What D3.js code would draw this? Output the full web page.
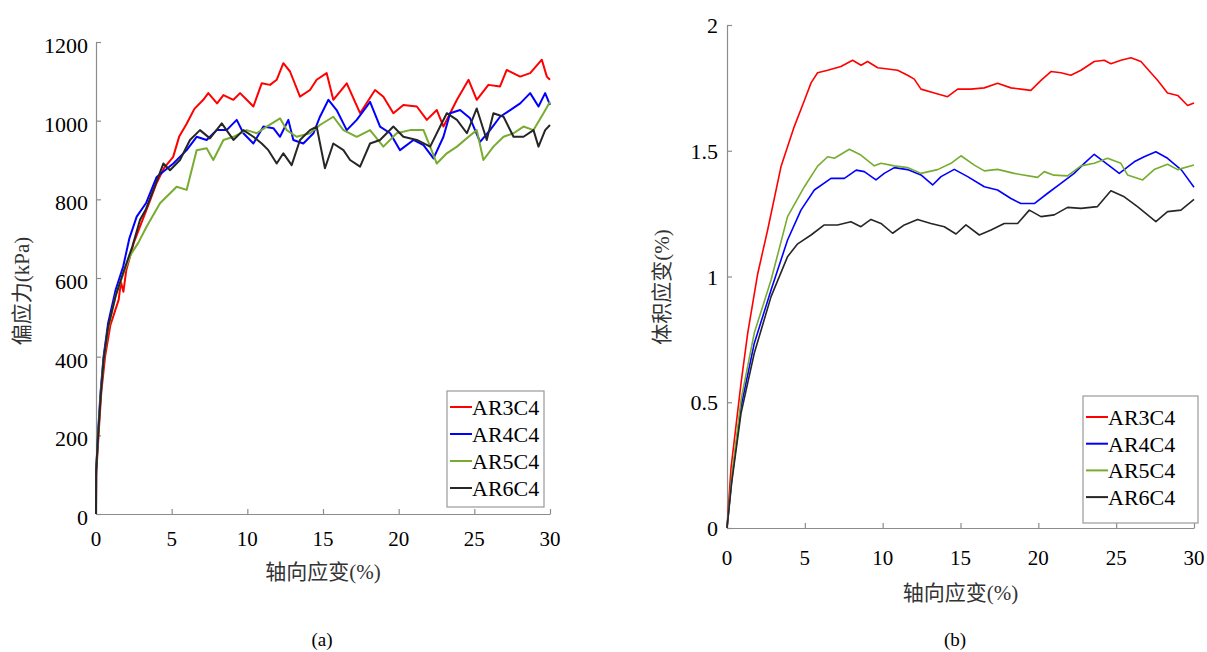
<!DOCTYPE html>
<html>
<head>
<meta charset="utf-8">
<script src="https://cdn.jsdelivr.net/npm/d3@7"></script>
<style>
  body { margin: 0; background: #fff; }
  svg { display: block; }
</style>
</head>
<body>
<div id="chart"></div>
<script>
// series names and colours
const seriesNames = ["AR3C4", "AR4C4", "AR5C4", "AR6C4"]
const seriesColors = ["#ff0000", "#0000ff", "#77ac30", "#262626"]

// (a) deviator stress (kPa) vs axial strain (%)
const stressAR3C4 = [[0,0],[0.01,100],[0.2,220],[0.35,310],[0.6,400],[0.95,480],[1.5,545],[1.65,590],[1.81,565],[2.0,620],[2.5,690],[3.0,740],[3.5,790],[4.0,841],[4.5,880],[5.1,908],[5.5,960],[6.0,993],[6.5,1030],[7.09,1053],[7.42,1070],[8.0,1044],[8.42,1065],[9.08,1053],[9.52,1070],[9.96,1053],[10.4,1036],[10.95,1095],[11.5,1091],[11.94,1104],[12.38,1146],[12.82,1125],[13.48,1061],[14.14,1078],[14.58,1104],[15.24,1121],[15.68,1053],[16.57,1095],[17.45,1019],[18.44,1078],[18.99,1061],[19.65,1019],[20.31,1040],[21.2,1036],[21.86,1002],[22.52,1027],[22.96,985],[23.85,1053],[24.62,1104],[25.16,1053],[25.93,1091],[26.7,1087],[27.14,1129],[28.03,1112],[28.69,1121],[29.46,1155],[29.79,1112],[30.0,1104]]
const stressAR4C4 = [[0,0],[0.01,110],[0.15,215],[0.3,310],[0.5,400],[0.8,485],[1.3,570],[1.8,630],[2.2,700],[2.69,756],[3.3,790],[4.01,857],[5.11,891],[5.99,925],[6.65,959],[7.31,951],[7.97,976],[8.63,976],[9.3,1002],[9.74,968],[10.4,942],[11.06,985],[11.72,981],[12.16,959],[12.71,1002],[13.04,951],[13.7,942],[14.37,968],[14.8,1010],[15.36,1053],[15.9,1027],[16.57,976],[17.23,1002],[18.11,1048],[18.77,985],[19.44,968],[20.09,925],[20.98,951],[21.64,938],[22.3,904],[22.96,959],[23.4,1019],[24.06,1027],[24.72,1006],[25.38,946],[26.04,976],[26.7,1010],[27.37,1027],[28.03,1044],[28.69,1070],[29.24,1036],[29.68,1070],[30.0,1040]]
const stressAR5C4 = [[0,0],[0.01,110],[0.15,205],[0.3,300],[0.5,390],[0.8,470],[1.3,555],[1.8,610],[2.3,660],[2.8,690],[3.35,731],[4.23,790],[5.33,832],[5.99,824],[6.65,925],[7.31,930],[7.75,900],[8.42,951],[9.08,959],[9.96,976],[10.62,968],[11.28,985],[12.16,1006],[12.6,976],[13.26,959],[14.14,968],[14.8,989],[15.68,1010],[16.35,976],[17.23,959],[18.11,976],[18.99,934],[19.87,968],[20.75,976],[21.64,976],[22.08,934],[22.52,891],[23.18,917],[23.85,934],[24.62,959],[25.16,976],[25.6,900],[26.26,934],[26.93,959],[27.59,968],[28.25,985],[28.91,976],[29.57,1019],[30.0,1048]]
const stressAR6C4 = [[0,0],[0.01,110],[0.15,205],[0.3,295],[0.5,392],[0.8,476],[1.3,555],[1.8,614],[2.4,680],[2.91,748],[3.3,775],[3.79,824],[4.45,891],[4.89,874],[5.55,900],[6.21,951],[6.87,976],[7.53,955],[8.31,993],[9.08,951],[9.74,976],[10.4,959],[10.95,942],[11.39,925],[11.94,891],[12.38,917],[12.93,887],[13.48,951],[14.14,976],[14.58,985],[15.13,879],[15.68,942],[16.35,925],[16.79,900],[17.45,883],[18.11,942],[18.77,951],[19.65,985],[20.31,959],[21.2,951],[22.08,934],[22.74,985],[23.18,1019],[23.85,1002],[24.51,968],[25.16,1031],[25.82,951],[26.26,1019],[26.93,1010],[27.59,959],[28.25,959],[28.91,976],[29.24,934],[29.68,976],[30.0,989]]

// (b) volumetric strain (%) vs axial strain (%)
const volAR3C4 = [[0,0],[0.26,0.24],[0.9,0.575],[1.33,0.775],[1.97,1.01],[2.61,1.185],[3.47,1.437],[4.32,1.596],[4.97,1.70],[5.4,1.77],[5.82,1.81],[6.47,1.82],[7.32,1.835],[8.07,1.86],[8.61,1.84],[9.03,1.855],[9.68,1.83],[10.32,1.825],[10.96,1.82],[11.6,1.80],[12.03,1.785],[12.46,1.745],[13.32,1.73],[14.17,1.715],[14.82,1.745],[15.67,1.745],[16.53,1.75],[17.38,1.768],[18.24,1.75],[18.88,1.745],[19.52,1.74],[20.17,1.78],[20.81,1.815],[21.45,1.81],[22.09,1.80],[22.74,1.82],[23.59,1.855],[24.23,1.86],[24.66,1.846],[25.31,1.86],[25.95,1.87],[26.59,1.855],[27.23,1.81],[27.66,1.78],[28.3,1.73],[28.95,1.72],[29.59,1.68],[30.0,1.69]]
const volAR4C4 = [[0,0],[0.3,0.19],[0.9,0.482],[1.75,0.734],[2.83,0.946],[3.89,1.145],[4.75,1.264],[5.61,1.344],[6.68,1.39],[7.54,1.39],[8.3,1.423],[8.82,1.417],[9.57,1.384],[10.1,1.41],[10.75,1.433],[11.6,1.425],[12.46,1.404],[13.21,1.364],[13.75,1.397],[14.6,1.426],[15.46,1.397],[16.53,1.357],[17.38,1.344],[18.24,1.31],[18.88,1.29],[19.74,1.29],[20.6,1.331],[21.45,1.37],[22.3,1.41],[22.95,1.45],[23.59,1.486],[24.23,1.456],[25.2,1.41],[26.16,1.456],[26.8,1.476],[27.55,1.496],[28.3,1.47],[29.2,1.423],[30.0,1.355]]
const volAR5C4 = [[0,0],[0.3,0.2],[0.9,0.509],[1.75,0.775],[2.83,0.986],[3.89,1.238],[4.97,1.357],[5.82,1.439],[6.47,1.476],[6.9,1.47],[7.86,1.506],[8.6,1.483],[9.46,1.44],[9.89,1.45],[10.75,1.44],[11.6,1.433],[12.46,1.41],[13.53,1.425],[14.39,1.45],[15.03,1.48],[15.89,1.443],[16.53,1.42],[17.38,1.426],[18.45,1.41],[19.95,1.394],[20.38,1.417],[21.0,1.403],[21.88,1.40],[22.74,1.44],[23.59,1.45],[24.45,1.47],[25.3,1.45],[25.73,1.404],[26.7,1.384],[27.44,1.425],[28.3,1.446],[28.95,1.425],[30.0,1.443]]
const volAR6C4 = [[0,0],[0.3,0.18],[0.9,0.456],[1.75,0.695],[2.83,0.92],[3.89,1.079],[4.54,1.13],[5.4,1.165],[6.25,1.205],[7.1,1.205],[7.96,1.218],[8.6,1.198],[9.25,1.227],[9.89,1.211],[10.64,1.172],[11.39,1.205],[12.24,1.227],[13.1,1.211],[13.96,1.198],[14.71,1.169],[15.35,1.205],[16.21,1.165],[16.96,1.185],[17.81,1.211],[18.67,1.211],[19.42,1.264],[20.17,1.238],[21.02,1.245],[21.88,1.275],[22.74,1.271],[23.8,1.278],[24.66,1.341],[25.52,1.317],[26.37,1.278],[27.55,1.218],[28.3,1.258],[29.16,1.264],[30.0,1.307]]

const xTicks = [0, 5, 10, 15, 20, 25, 30]
const stressTicks = [0, 200, 400, 600, 800, 1000, 1200]
const volTicks = [0, 0.5, 1, 1.5, 2]

const serif = '"Liberation Serif", "Noto Sans CJK SC", serif'
const axisColor = "#8c8c8c"

const svg = d3.select("#chart")
    .append("svg")
    .attr("width", 1207)
    .attr("height", 652)

// add a text element with the serif family set inline
function addText(parent, size) {
    return parent.append("text")
        .style("font-family", serif)
        .style("font-size", size + "px")
}

function panel(cfg) {
    const x = d3.scaleLinear().domain([0, 30]).range([cfg.left, cfg.right])
    const y = d3.scaleLinear().domain(cfg.yDomain).range([cfg.bottom, cfg.top])
    const g = svg.append("g")

    // axes (ticks point inward)
    g.append("g")
        .attr("transform", `translate(0,${cfg.bottom})`)
        .call(d3.axisBottom(x).tickValues(xTicks).tickSizeInner(-5).tickSizeOuter(0).tickFormat(""))
    g.append("g")
        .attr("transform", `translate(${cfg.left},0)`)
        .call(d3.axisLeft(y).tickValues(cfg.yTicks).tickSizeInner(-5).tickSizeOuter(0).tickFormat(""))
    g.selectAll(".domain, .tick line").attr("stroke", axisColor).attr("stroke-width", 1.2)

    // tick labels
    xTicks.forEach(d => {
        addText(g, 21)
            .attr("x", x(d))
            .attr("y", cfg.bottom + cfg.xLabelDy)
            .attr("text-anchor", "middle")
            .text(d)
    })
    cfg.yTicks.forEach(d => {
        addText(g, 22)
            .attr("x", cfg.left - cfg.yLabelDx)
            .attr("y", y(d) + cfg.yLabelDy)
            .attr("text-anchor", "end")
            .text(d)
    })

    // curves
    const line = d3.line().x(d => x(d[0])).y(d => y(d[1]))
    g.append("g").selectAll("path")
        .data(cfg.series)
        .join("path")
        .attr("fill", "none")
        .attr("stroke", (d, i) => seriesColors[i])
        .attr("stroke-width", cfg.lineWidth)
        .attr("stroke-linejoin", "round")
        .attr("d", line)

    // axis titles
    addText(g, 21)
        .attr("x", (cfg.left + cfg.right) / 2)
        .attr("y", cfg.xTitleY)
        .attr("text-anchor", "middle")
        .attr("fill", "#333")
        .text("轴向应变(%)")

    addText(g, 21)
        .attr("transform", `translate(${cfg.yTitleX},${cfg.yTitleY}) rotate(-90)`)
        .attr("text-anchor", "middle")
        .attr("fill", "#333")
        .text(cfg.yTitle)

    // legend
    const lg = g.append("g")
    lg.append("rect")
        .attr("x", cfg.legend.x).attr("y", cfg.legend.y)
        .attr("width", cfg.legend.w).attr("height", cfg.legend.h)
        .attr("fill", "#fff").attr("stroke", "#999").attr("stroke-width", 1.2)
    seriesNames.forEach((name, i) => {
        const cy = cfg.legend.y + cfg.legend.first + i * cfg.legend.step
        lg.append("line")
            .attr("x1", cfg.legend.x + 3).attr("x2", cfg.legend.x + 25)
            .attr("y1", cy).attr("y2", cy)
            .attr("stroke", seriesColors[i]).attr("stroke-width", 2)
        addText(lg, 22)
            .attr("x", cfg.legend.x + 25)
            .attr("y", cy + 8)
            .text(name)
    })

    // caption
    addText(g, 19)
        .attr("x", cfg.captionX)
        .attr("y", 646)
        .attr("text-anchor", "middle")
        .text(cfg.caption)
}

panel({
    left: 96, right: 550, top: 42, bottom: 514,
    yDomain: [0, 1200], yTicks: stressTicks,
    series: [stressAR3C4, stressAR4C4, stressAR5C4, stressAR6C4],
    lineWidth: 2,
    xLabelDy: 32, yLabelDx: 8, yLabelDy: 11,
    xTitleY: 579, yTitle: "偏应力(kPa)", yTitleX: 29, yTitleY: 291,
    legend: { x: 447, y: 391, w: 97, h: 116, first: 16, step: 27 },
    caption: "(a)", captionX: 322
})

panel({
    left: 727, right: 1194, top: 25, bottom: 528,
    yDomain: [0, 2], yTicks: volTicks,
    series: [volAR3C4, volAR4C4, volAR5C4, volAR6C4],
    lineWidth: 1.6,
    xLabelDy: 37, yLabelDx: 9, yLabelDy: 8,
    xTitleY: 600, yTitle: "体积应变(%)", yTitleX: 669, yTitleY: 287,
    legend: { x: 1083, y: 396, w: 115, h: 127, first: 21, step: 26.7 },
    caption: "(b)", captionX: 955
})
</script>
</body>
</html>
